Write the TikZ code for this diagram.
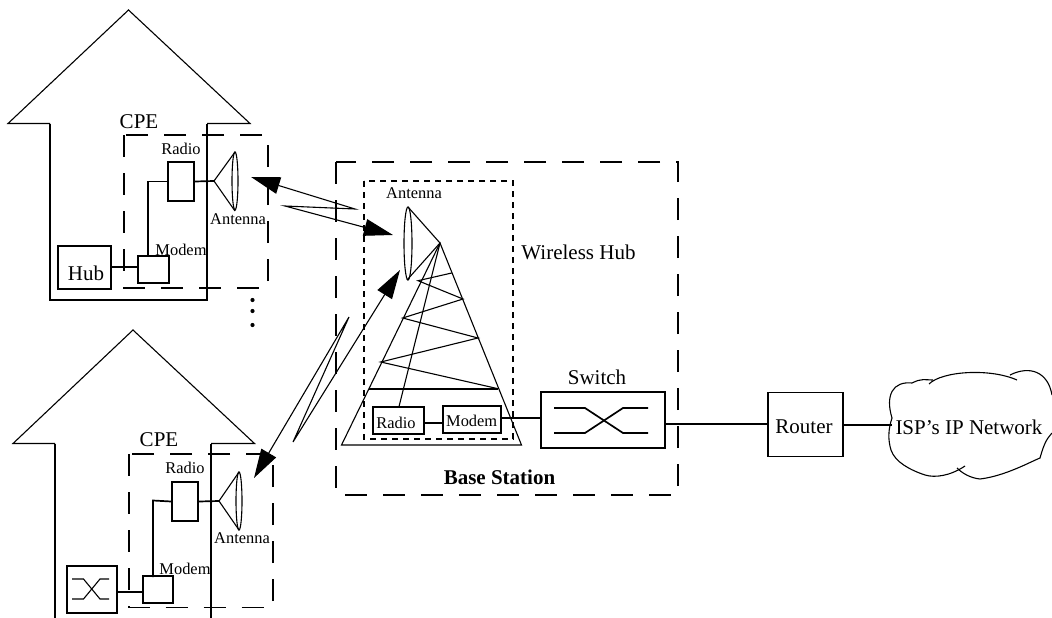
\documentclass[tikz,border=0pt]{standalone}
\usepackage{fontspec}
\setmainfont{Liberation Serif}
\usetikzlibrary{arrows.meta}

\tikzset{
    big/.style={font=\fontsize{21}{24}\selectfont, inner sep=0pt},
    small/.style={font=\fontsize{16.4}{19}\selectfont, inner sep=0pt},
    box/.style={draw, line width=1.7pt, inner sep=0pt},
    wire/.style={line width=1.7pt},
    thin line/.style={line width=1.1pt},
    longdash/.style={line width=1.6pt, dash pattern=on 22pt off 16pt},
    shortdash/.style={line width=1.6pt, dash pattern=on 6pt off 5pt},
    bolt/.style={line width=1.1pt, {Triangle[length=29pt,width=17pt]}-{Triangle[length=29pt,width=17pt]}}
}

\begin{document}
\begin{tikzpicture}[x=1pt,y=-1pt]

    \useasboundingbox (0,0) rectangle (1052,618);

    % Upper house
    \draw[thin line] (50,123.5) -- (8,123.5) -- (128.5,10) -- (250,123.5) -- (207,123.5);
    \draw[wire] (50,123.5) -- (50,300) -- (207,300) -- (207,123.5);
    \draw[longdash] (124,135) rectangle (268,288);
    \node[big] (cpeA) at (139,122) {CPE};

    \node[box, minimum width=26pt, minimum height=39pt] (radioA) at (181,181.5) {};
    \node[small] (radioAtext) at (181,149) {Radio};
    \node[box, minimum width=31pt, minimum height=27pt] (modemA) at (153.5,269.5) {};
    \node[small] (modemAtext) at (181,250) {Modem};
    \node[box, minimum width=53pt, minimum height=43pt] (hubA) at (84.5,267.5) {};
    \node[big] (hubAtext) at (86,273) {Hub};
    \draw[wire] (hubA.east |- 0,267) -- (modemA.west |- 0,267);
    \draw[wire] (radioA.west) -- (148,181.5) -- (148,257);

    % Upper antenna
    \coordinate (dishA) at (214,181);
    \draw[wire] (radioA.east) -- (dishA);
    \draw[thin line] (235,152) -- (dishA) -- (235,211);
    \draw[thin line] (235,181) ellipse (3 and 29);
    \node[small] (antennaAtext) at (238,219) {Antenna};

    % Dots
    \fill (252.5,300) circle (2.1);
    \fill (252.5,311) circle (2.1);
    \fill (252.5,325) circle (2.1);

    % Lower house
    \draw[thin line] (55,443.5) -- (13,443.5) -- (133,330) -- (254.5,443.5) -- (211,443.5);
    \draw[wire] (55,443.5) -- (55,618);
    \draw[wire] (211,443.5) -- (211,618);
    \draw[longdash] (129,454) rectangle (273,607.5);
    \node[big] (cpeB) at (159,440) {CPE};

    \node[box, minimum width=26pt, minimum height=39pt] (radioB) at (185,501.5) {};
    \node[small] (radioBtext) at (185,468) {Radio};
    \node[box, minimum width=30pt, minimum height=27pt] (modemB) at (158,589.5) {};
    \node[small] (modemBtext) at (185,569) {Modem};
    \node[box, minimum width=50pt, minimum height=47pt] (hubB) at (92,589.5) {};
    \draw[wire] (hubB.east |- 0,592) -- (modemB.west |- 0,592);
    \draw[wire] (radioB.west) -- (153,500.5) -- (153,577);

    % Crossing inside the lower left box
    \draw[thin line] (72,579) -- (83.5,579) -- (100,599) -- (109,599);
    \draw[thin line] (72,599) -- (83.5,599) -- (100,579) -- (109,579);

    % Lower antenna
    \coordinate (dishB) at (219,501);
    \draw[wire] (radioB.east) -- (dishB);
    \draw[thin line] (239,472) -- (dishB) -- (239,530);
    \draw[thin line] (239,501) ellipse (3 and 29);
    \node[small] (antennaBtext) at (242,538) {Antenna};

    % Radio links
    \coordinate (tipA) at (251,177);
    \coordinate (kneeA) at (355,209);
    \coordinate (kneeB) at (285,206);
    \coordinate (tipB) at (393,235);
    \draw[bolt] (tipA) -- (kneeA) -- (kneeB) -- (tipB);

    \coordinate (tipC) at (254,478);
    \coordinate (kneeC) at (349,317);
    \coordinate (kneeD) at (293,442);
    \coordinate (tipD) at (400,270);
    \draw[bolt] (tipC) -- (kneeC) -- (kneeD) -- (tipD);

    % Base station
    \draw[longdash] (336,162) rectangle (678,495);
    \draw[shortdash] (364,181) rectangle (513,439);
    \node[big] (hubtext) at (578.5,252) {Wireless Hub};
    \node[big, font=\fontsize{21}{24}\selectfont\bfseries] (basetext) at (499.5,477) {Base Station};
    \node[small] (antennaCtext) at (414,193) {Antenna};

    % Tower
    \coordinate (apex) at (440,243);
    \draw[thin line] (apex) -- (341.5,445) -- (521.5,445) -- cycle;
    \draw[wire] (369,388.7) -- (498,388.7);
    \draw[thin line] (498,388.7) -- (380.7,362) -- (478,338) -- (402.7,318)
        -- (463,299) -- (418,280.7) -- (451.7,273);
    \draw[thin line] (apex) -- (399,406.5);

    % Tower antenna
    \draw[thin line] (408,207) -- (apex) -- (407,280);
    \draw[thin line] (408,243.5) ellipse (4 and 36.5);

    % Radio and modem at the foot of the tower
    \node[box, minimum width=51.5pt, minimum height=27.5pt] (radioC) at (398.5,420.5) {};
    \node[small] (radioCtext) at (396,423) {Radio};
    \node[box, minimum width=58pt, minimum height=26.5pt] (modemC) at (472,419.5) {};
    \node[small] (modemCtext) at (471.7,420.7) {Modem};
    \draw[wire] (radioC.east |- 0,423) -- (modemC.west |- 0,423);

    % Switch
    \node[box, minimum width=124pt, minimum height=56.5pt] (switch) at (603,420) {};
    \node[big] (switchtext) at (597,377) {Switch};
    \draw[wire] (modemC.east |- 0,418) -- (switch.west |- 0,418);
    \draw[wire] (554,408) -- (585,408) -- (623,433) -- (648,433);
    \draw[wire] (554,433) -- (585,433) -- (623,408) -- (648,408);

    % Router and cloud
    \node[box, minimum width=75pt, minimum height=64pt] (router) at (805.5,424.5) {};
    \node[big] (routertext) at (804,427) {Router};
    \draw[wire] (switch.east |- 0,424) -- (router.west |- 0,424);
    \coordinate (cloudleft) at (892,425);
    \draw[wire] (router.east |- cloudleft) -- (cloudleft);
    \draw[thin line] (892,418) .. controls (885,395) and (893,381) .. (912,383)
        .. controls (922,378) and (925,380) .. (933,380);
    \draw[thin line] (929,384) .. controls (942,371) and (990,368) .. (1017,380);
    \draw[thin line] (1010,375) .. controls (1030,365) and (1048,372) .. (1052,395);
    \draw[thin line] (1052,433) .. controls (1048,438) and (1045,440) .. (1040,458)
        .. controls (1030,462) and (1005,476) .. (980,479) .. controls (970,478) and (962,473) .. (957,468);
    \draw[thin line] (965,466) .. controls (950,476) and (935,478) .. (925,475)
        .. controls (910,470) and (895,462) .. (891,450) .. controls (888,440) and (888,430) .. (892,418);
    \node[big] (cloudtext) at (969,427) {ISP's IP Network};

\end{tikzpicture}
\end{document}
